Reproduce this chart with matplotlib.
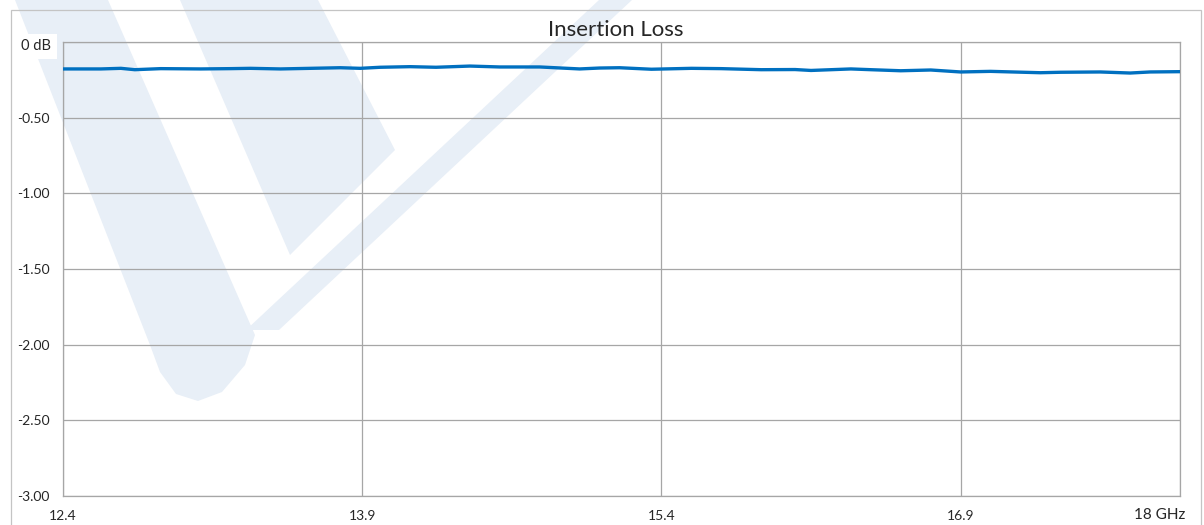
import matplotlib
matplotlib.use("Agg")
import matplotlib.pyplot as plt
from matplotlib.patches import Polygon, Rectangle
from matplotlib.transforms import ScaledTranslation

# ---- data ----
freq_ghz = [12.40, 12.59, 12.69, 12.76, 12.89, 13.09, 13.24, 13.34, 13.49, 13.64,
            13.79, 13.89, 13.99, 14.14, 14.27, 14.44, 14.59, 14.79, 14.99, 15.09,
            15.19, 15.35, 15.55, 15.70, 15.90, 16.07, 16.15, 16.35, 16.45, 16.60,
            16.75, 16.90, 17.05, 17.30, 17.40, 17.60, 17.75, 17.85, 18.00]
loss_db = [-0.178, -0.178, -0.174, -0.183, -0.176, -0.178, -0.176, -0.174, -0.178, -0.174,
           -0.170, -0.174, -0.167, -0.163, -0.167, -0.159, -0.165, -0.165, -0.178, -0.172,
           -0.170, -0.180, -0.174, -0.176, -0.183, -0.182, -0.188, -0.178, -0.183, -0.190,
           -0.185, -0.198, -0.194, -0.203, -0.200, -0.198, -0.205, -0.198, -0.196]
x_ticks = [12.4, 13.9, 15.4, 16.9, 18.0]
x_labels = ["12.4", "13.9", "15.4", "16.9", "18 GHz"]
y_ticks = [0.0, -0.5, -1.0, -1.5, -2.0, -2.5, -3.0]
y_labels = ["0 dB", "-0.50", "-1.00", "-1.50", "-2.00", "-2.50", "-3.00"]
title = "Insertion Loss"

W, H = 1204, 525
plt.rcParams['font.family'] = ['Lato', 'DejaVu Sans']
fig = plt.figure(figsize=(W / 100, H / 100), dpi=100)
fig.patch.set_facecolor('white')

def fx(px):
    return px / W

def fy(py):
    return 1 - py / H

# ---- background watermark (decoration) ----
wm_color = '#E8EFF7'
bandA = [(15, 0), (108, 0), (255, 335), (245, 365), (222, 392), (198, 401),
         (176, 394), (160, 372), (150, 345)]
bandB = [(180, 0), (318, 0), (395, 150), (290, 255)]
bandC = [(599, 0), (632, 0), (279, 330), (246, 330)]
for poly in (bandA, bandB, bandC):
    p = Polygon([(fx(a), fy(b)) for a, b in poly], closed=True, transform=fig.transFigure,
                facecolor=wm_color, edgecolor='none', zorder=-2)
    fig.add_artist(p)

# outer frame
frame = Rectangle((fx(11), fy(540)), fx(1201) - fx(11), fy(10) - fy(540),
                  transform=fig.transFigure, facecolor='none', edgecolor='#C4C4C4',
                  linewidth=0.9, zorder=-1)
fig.add_artist(frame)

# ---- axes ----
left, right, top, bottom = 63, 1180, 42, 496
ax = fig.add_axes([fx(left), fy(bottom), fx(right) - fx(left), fy(top) - fy(bottom)])
ax.set_facecolor('none')
ax.set_xlim(12.4, 18.0)
ax.set_ylim(-3.0, 0.0)

ax.plot(freq_ghz, loss_db, color='#0070C0', linewidth=2.4, solid_capstyle='round',
        solid_joinstyle='round', zorder=3)

grid_c = '#A6A6A6'
ax.set_xticks(x_ticks)
ax.set_xticklabels(x_labels)
ax.set_yticks(y_ticks)
ax.set_yticklabels(y_labels)
ax.grid(True, color=grid_c, linewidth=0.9)
ax.set_axisbelow(True)
for s in ax.spines.values():
    s.set_color(grid_c)
    s.set_linewidth(0.9)

ax.tick_params(axis='both', length=0, labelsize=10, labelcolor='#262626')
ax.tick_params(axis='y', pad=33)
ax.tick_params(axis='x', pad=10)
for lab in ax.get_yticklabels():
    lab.set_horizontalalignment('left')
ylabs = ax.get_yticklabels()
ylabs[0].set_fontsize(10.5)
ylabs[0].set_bbox(dict(facecolor='white', edgecolor='none', pad=4))
ylabs[0].set_transform(ylabs[0].get_transform() +
                       ScaledTranslation(4 / 100, -3 / 100, fig.dpi_scale_trans))
xlabs = ax.get_xticklabels()
xlabs[-1].set_horizontalalignment('right')
xlabs[-1].set_fontsize(11)
xlabs[-1].set_transform(xlabs[-1].get_transform() +
                        ScaledTranslation(5 / 100, 2 / 100, fig.dpi_scale_trans))

fig.text(fx(615.5), fy(30), title, ha='center', va='center', fontsize=16, color='#262626')

fig.savefig('out.png', dpi=100)
